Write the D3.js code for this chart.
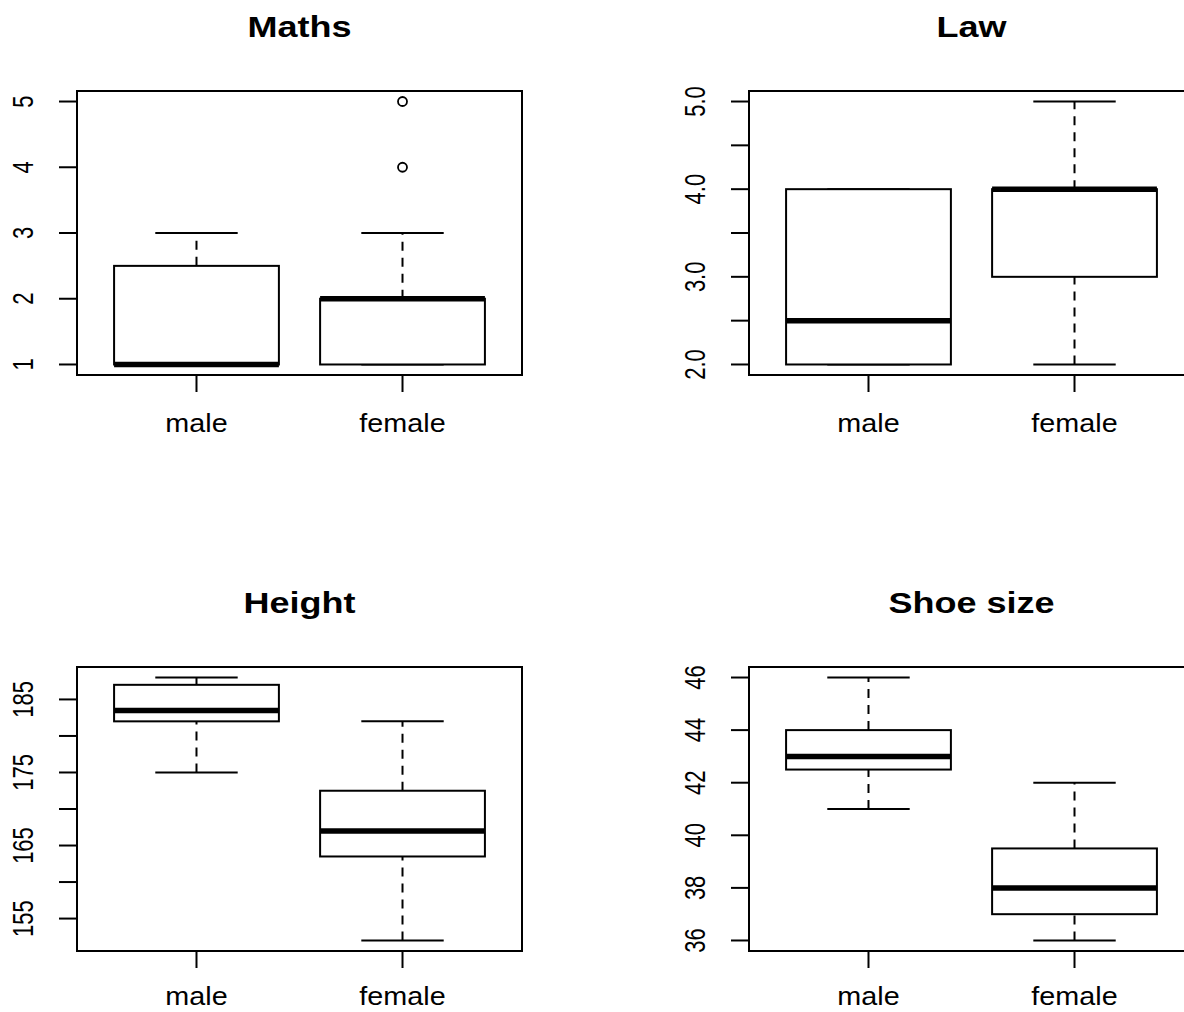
<!DOCTYPE html>
<html><head><meta charset="utf-8">
<script src="https://cdn.jsdelivr.net/npm/d3@7"></script>
<style>body{margin:0;background:#fff}svg{display:block}</style>
</head><body>
<script>
// ---- data ----
const categories = ["male", "female"];
const titles = ["Maths", "Law", "Height", "Shoe size"];
// five-number stats: [lower whisker, Q1, median, Q3, upper whisker]
const mathsStats = [[1, 1, 1, 2.5, 3], [1, 1, 2, 2, 3]];
const mathsOutliers = [[], [4, 5]];
const lawStats = [[2, 2, 2.5, 4, 4], [2, 3, 4, 4, 5]];
const lawOutliers = [[], []];
const heightStats = [[175, 182, 183.5, 187, 188], [152, 163.5, 167, 172.5, 182]];
const heightOutliers = [[], []];
const shoeStats = [[41, 42.5, 43, 44, 46], [36, 37, 38, 39.5, 42]];
const shoeOutliers = [[], []];
const mathsTicks = [1, 2, 3, 4, 5];
const mathsLabels = ["1", "2", "3", "4", "5"];
const lawTicks = [2, 2.5, 3, 3.5, 4, 4.5, 5];
const lawLabels = ["2.0", "", "3.0", "", "4.0", "", "5.0"];
const heightTicks = [155, 160, 165, 170, 175, 180, 185];
const heightLabels = ["155", "", "165", "", "175", "", "185"];
const shoeTicks = [36, 38, 40, 42, 44, 46];
const shoeLabels = ["36", "38", "40", "42", "44", "46"];

const panels = [
  {title: titles[0], stats: mathsStats, out: mathsOutliers, ticks: mathsTicks, labels: mathsLabels, col: 0, row: 0},
  {title: titles[1], stats: lawStats, out: lawOutliers, ticks: lawTicks, labels: lawLabels, col: 1, row: 0},
  {title: titles[2], stats: heightStats, out: heightOutliers, ticks: heightTicks, labels: heightLabels, col: 0, row: 1},
  {title: titles[3], stats: shoeStats, out: shoeOutliers, ticks: shoeTicks, labels: shoeLabels, col: 1, row: 1}
];

const W = 1184, H = 1012;
const svg = d3.select("body").append("svg").attr("width", W).attr("height", H);
const font = "'Liberation Sans', Arial, sans-serif";

const plotW = 445, plotH = 284, x0 = 77, y0 = 91, dx = 672, dy = 576;

panels.forEach(p => {
  const left = x0 + p.col * dx, top = y0 + p.row * dy;
  const g = svg.append("g").attr("transform", `translate(${left},${top})`);
  const allVals = p.stats.flat().concat(p.out.flat());
  const [mn, mx] = d3.extent(allVals);
  const pad = (mx - mn) * 0.04;
  const y = d3.scaleLinear().domain([mn - pad, mx + pad]).range([plotH, 0]);
  const x = d3.scaleLinear().domain([0.42, 2.58]).range([0, plotW]);

  // frame
  g.append("rect").attr("x", 0).attr("y", 0).attr("width", plotW).attr("height", plotH)
    .attr("fill", "none").attr("stroke", "#000").attr("stroke-width", 2);

  // y axis
  const yAx = g.append("g");
  p.ticks.forEach((t, i) => {
    yAx.append("line").attr("x1", -18).attr("x2", 0).attr("y1", y(t)).attr("y2", y(t))
      .attr("stroke", "#000").attr("stroke-width", 2);
    if (p.labels[i]) {
      yAx.append("text").attr("transform", `translate(-44,${y(t)}) scale(1.3,1) rotate(-90)`)
        .attr("text-anchor", "middle").attr("font-family", font).attr("font-size", 22)
        .attr("fill", "#000").text(p.labels[i]);
    }
  });

  // x axis
  const labelY = Math.min(plotH + 57, H - top - 7);
  categories.forEach((c, i) => {
    const cx = x(i + 1);
    g.append("line").attr("x1", cx).attr("x2", cx).attr("y1", plotH).attr("y2", plotH + 17)
      .attr("stroke", "#000").attr("stroke-width", 2);
    g.append("text").attr("transform", `translate(${cx},${labelY}) scale(1.15,1)`)
      .attr("text-anchor", "middle").attr("font-family", font).attr("font-size", 25)
      .attr("fill", "#000").text(c);
  });

  // title
  svg.append("text").attr("transform", `translate(${left + plotW / 2},${top - 54}) scale(1.2,1)`)
    .attr("text-anchor", "middle").attr("font-family", font).attr("font-size", 30)
    .attr("font-weight", "bold").attr("fill", "#000").text(p.title);

  // boxes
  p.stats.forEach((s, i) => {
    const cx = x(i + 1);
    const bx0 = x(i + 1 - 0.4), bx1 = x(i + 1 + 0.4);
    const cx0 = x(i + 1 - 0.2), cx1 = x(i + 1 + 0.2);
    // whiskers
    [[s[0], s[1]], [s[3], s[4]]].forEach(([a, b]) => {
      if (a !== b) g.append("line").attr("x1", cx).attr("x2", cx).attr("y1", y(a)).attr("y2", y(b))
        .attr("stroke", "#000").attr("stroke-width", 2).attr("stroke-dasharray", "9,7");
    });
    // caps
    [s[0], s[4]].forEach(v => {
      g.append("line").attr("x1", cx0).attr("x2", cx1).attr("y1", y(v)).attr("y2", y(v))
        .attr("stroke", "#000").attr("stroke-width", 2);
    });
    // box
    g.append("rect").attr("x", bx0).attr("y", y(s[3])).attr("width", bx1 - bx0)
      .attr("height", y(s[1]) - y(s[3])).attr("fill", "#fff").attr("stroke", "#000").attr("stroke-width", 2);
    // median
    g.append("line").attr("x1", bx0).attr("x2", bx1).attr("y1", y(s[2])).attr("y2", y(s[2]))
      .attr("stroke", "#000").attr("stroke-width", 5.5);
    // outliers
    p.out[i].forEach(v => {
      g.append("circle").attr("cx", cx).attr("cy", y(v)).attr("r", 4.5)
        .attr("fill", "none").attr("stroke", "#000").attr("stroke-width", 1.8);
    });
  });
});
</script>
</body></html>
